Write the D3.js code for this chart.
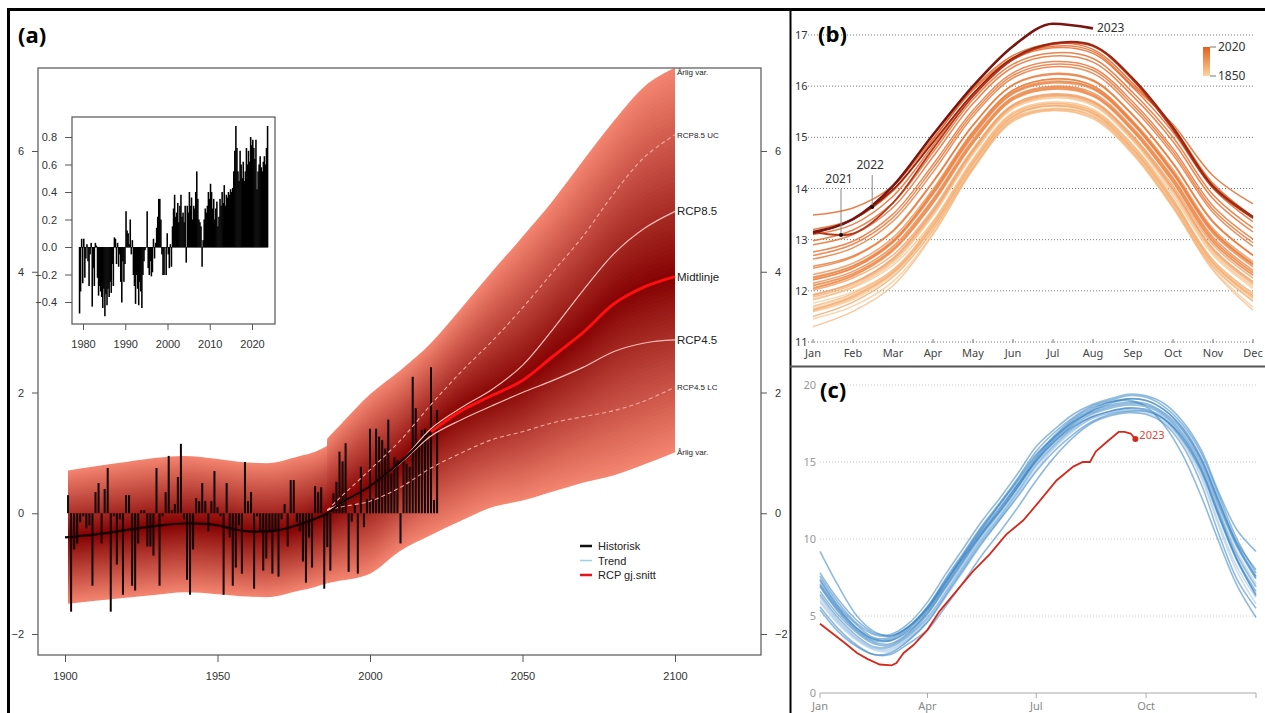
<!DOCTYPE html>
<html>
<head>
<meta charset="utf-8">
<script src="https://cdn.jsdelivr.net/npm/d3@7"></script>
<style>
  body { margin: 0; background: #fff; }
  svg { display: block; }
</style>
</head>
<body>
<svg id="fig" width="1265" height="713"></svg>
<script>
// ---------- panel (a): annual anomaly 1901-2022, projections to 2100 ----------
const histStart = 1901;
const histTemp = [
  0.30, -1.63, -0.60, -0.50, -0.15, -0.05, -0.25, -0.20, -1.20, 0.35,
  0.50, -0.50, 0.40, 0.75, -1.63, -0.05, -0.85, -0.10, -1.35, 0.30,
  0.30, -1.20, -1.28, -0.50, 0.05, 0.05, -0.55, -0.55, -0.70, 0.75,
  -1.20, -0.05, 0.35, 0.95, 0.05, 0.15, 0.60, 1.15, -0.10, -1.10,
  -1.35, -0.60, 0.25, 0.20, 0.50, 0.20, -0.30, 0.20, 0.70, 0.10,
  -0.05, -1.35, 0.50, -0.40, -1.20, -0.90, -0.20, -1.00, 0.85, 0.20,
  0.35, -1.25, -0.05, -0.30, -0.95, -0.75, -0.30, -1.00, -0.30, -1.05,
  -0.10, 0.15, -0.55, 0.55, 0.55, -0.15, -0.30, -0.80, -1.15, -0.40,
  -0.90, 0.45, 0.35, 0.43, -1.25, -0.56, -0.95, 0.33, 0.52, 1.02,
  0.86, 1.16, -0.97, -0.14, 0.16, -1.00, 0.77, -0.23, 0.24, 1.40,
  0.24, 1.40, 1.27, 1.21, 1.07, 1.55, 0.66, 0.93, 0.88, -0.50,
  0.93, 0.82, 0.77, 2.26, 1.74, 1.18, 1.38, 1.40, 1.21, 2.42,
  0.22, 1.71
];
const trendYears = [1900, 1910, 1920, 1930, 1939, 1950, 1955, 1960, 1970, 1980, 1986, 1990, 2000, 2010, 2020, 2022];
const trendVals  = [-0.40, -0.35, -0.28, -0.21, -0.17, -0.20, -0.26, -0.30, -0.28, -0.13, 0.00, 0.15, 0.45, 0.85, 1.35, 1.45];

const histBandYears = [1901, 1910, 1920, 1930, 1939, 1950, 1960, 1966, 1977, 1982, 1986];
const histUpper  = [0.71, 0.78, 0.85, 0.92, 0.95, 0.90, 0.84, 0.83, 0.95, 1.02, 1.12];
const histLower  = [-1.50, -1.45, -1.40, -1.35, -1.31, -1.34, -1.38, -1.39, -1.28, -1.22, -1.16];
const histCenter = [-0.40, -0.35, -0.28, -0.21, -0.17, -0.20, -0.30, -0.30, -0.22, -0.10, 0.00];

const futYears  = [1986, 1990, 2000, 2010, 2020, 2030, 2040, 2050, 2060, 2070, 2080, 2090, 2100];
const futUpper  = [1.24, 1.45, 1.97, 2.37, 2.82, 3.40, 4.00, 4.58, 5.18, 5.85, 6.50, 7.07, 7.38];
const futLower  = [-1.16, -1.12, -1.00, -0.62, -0.36, -0.12, 0.10, 0.21, 0.36, 0.51, 0.63, 0.81, 1.01];
const futCenter = [0.00, 0.15, 0.45, 0.85, 1.35, 1.70, 1.95, 2.20, 2.60, 3.00, 3.47, 3.75, 3.92];
const rcp85uc   = [0.05, 0.25, 0.72, 1.21, 1.80, 2.35, 2.85, 3.40, 4.00, 4.60, 5.30, 5.90, 6.27];
const rcp85     = [0.05, 0.15, 0.45, 0.85, 1.40, 1.75, 2.05, 2.45, 3.05, 3.70, 4.30, 4.72, 5.00];
const rcp45     = [0.05, 0.15, 0.45, 0.83, 1.28, 1.55, 1.78, 2.00, 2.20, 2.42, 2.68, 2.82, 2.87];
const rcp45lc   = [0.05, 0.10, 0.20, 0.43, 0.75, 1.00, 1.22, 1.35, 1.50, 1.60, 1.70, 1.86, 2.09];
const midYears  = [2020, 2030, 2040, 2050, 2060, 2070, 2080, 2090, 2100];
const midVals   = [1.35, 1.70, 1.95, 2.20, 2.60, 3.00, 3.47, 3.75, 3.92];

const yTicksA = [-2, 0, 2, 4, 6];
const xTicksA = [1900, 1950, 2000, 2050, 2100];

// inset: quarterly anomaly 1979 - 2023
const insetStart = 1979;
const insetTemp = [
  -0.48, -0.32, 0.06, -0.26,   0.06, -0.22, -0.08, 0.02,   -0.10, -0.28, -0.05, 0.03,
  -0.43, -0.15, -0.28, 0.03,   0.01, -0.22, -0.35, -0.28,  -0.32, -0.36, -0.44, -0.30,
  -0.50, -0.34, -0.42, -0.30,  -0.36, -0.25, -0.33, -0.12, -0.28, 0.07, 0.06, -0.12,
  0.03, -0.14, -0.05, -0.25,   -0.40, -0.10, -0.25, -0.12, 0.26, 0.12, 0.10, 0.02,
  0.20, -0.05, 0.05, -0.20,    -0.28, -0.41, -0.20, -0.30, -0.42, -0.25, -0.32, -0.44,
  -0.20, -0.10, -0.02, 0.00,   0.26, -0.15, -0.20, -0.10,  -0.21, -0.18, 0.06, -0.08,
  0.03, 0.14, 0.22, 0.35,      0.35, 0.20, -0.05, -0.20,   -0.20, 0.00, -0.20, 0.10,
  -0.05, -0.15, 0.02, -0.14,   0.15, 0.28, 0.38, 0.22,     0.25, 0.32, 0.18, 0.30,
  0.38, 0.22, 0.25, 0.18,      0.30, -0.11, 0.30, 0.25,    0.40, 0.30, 0.36, 0.20,
  0.30, 0.28, 0.40, 0.55,      0.35, 0.20, 0.18, 0.15,     -0.14, 0.05, 0.20, 0.28,
  0.25, 0.30, 0.40, 0.35,      0.46, 0.40, 0.28, 0.35,     0.20, 0.28, 0.33, 0.15,
  0.22, 0.35, 0.30, 0.40,      0.32, 0.45, 0.30, 0.38,     0.36, 0.40, 0.38, 0.42,
  0.40, 0.43, 0.55, 0.70,      0.88, 0.72, 0.55, 0.48,     0.70, 0.60, 0.50, 0.62,
  0.48, 0.55, 0.72, 0.60,      0.70, 0.62, 0.80, 0.74,     0.78, 0.72, 0.64, 0.78,
  0.42, 0.55, 0.60, 0.66,      0.58, 0.55, 0.62, 0.66,     0.60, 0.72, 0.88
];
const insetYTicks = [-0.4, -0.2, 0, 0.2, 0.4, 0.6, 0.8];
const insetXTicks = [1980, 1990, 2000, 2010, 2020];

// ---------- panel (b): monthly global mean temperature by year ----------
const bMonths = ["Jan", "Feb", "Mar", "Apr", "May", "Jun", "Jul", "Aug", "Sep", "Oct", "Nov", "Dec"];
const bTicks = [11, 12, 13, 14, 15, 16, 17];
const bYears = [1850, 1855, 1860, 1865, 1870, 1875, 1880, 1885, 1890, 1895, 1900, 1905, 1910, 1915,
  1920, 1925, 1930, 1935, 1940, 1945, 1950, 1955, 1960, 1965, 1970, 1975, 1980, 1985, 1990, 1995,
  2000, 2005, 2010, 2015, 2016, 2020];
const bCurves = [
  [11.67, 11.92, 12.38, 13.29, 14.51, 15.43, 15.63, 15.49, 14.79, 13.76, 12.57, 11.92],
  [11.59, 11.83, 12.31, 13.25, 14.49, 15.42, 15.62, 15.47, 14.76, 13.70, 12.50, 11.84],
  [11.76, 11.98, 12.40, 13.22, 14.44, 15.37, 15.57, 15.43, 14.75, 13.74, 12.60, 11.95],
  [11.45, 11.70, 12.18, 13.12, 14.37, 15.31, 15.52, 15.36, 14.66, 13.62, 12.42, 11.68],
  [11.84, 12.06, 12.50, 13.36, 14.55, 15.46, 15.66, 15.52, 14.85, 13.86, 12.70, 12.05],
  [11.60, 11.86, 12.36, 13.34, 14.58, 15.49, 15.69, 15.55, 14.84, 13.79, 12.55, 11.86],
  [11.82, 12.08, 12.55, 13.47, 14.67, 15.56, 15.77, 15.62, 14.93, 13.92, 12.74, 12.09],
  [11.30, 11.60, 12.10, 13.10, 14.38, 15.32, 15.53, 15.38, 14.68, 13.63, 12.40, 11.62],
  [11.64, 11.88, 12.34, 13.25, 14.48, 15.40, 15.61, 15.46, 14.76, 13.72, 12.53, 11.88],
  [11.70, 11.95, 12.41, 13.32, 14.54, 15.46, 15.66, 15.51, 14.82, 13.79, 12.60, 11.95],
  [11.88, 12.12, 12.59, 13.51, 14.71, 15.59, 15.80, 15.65, 14.96, 13.96, 12.78, 12.13],
  [11.62, 11.90, 12.36, 13.27, 14.49, 15.41, 15.62, 15.47, 14.77, 13.74, 12.55, 11.90],
  [11.50, 11.78, 12.27, 13.18, 14.41, 15.35, 15.55, 15.41, 14.71, 13.66, 12.47, 11.80],
  [11.91, 12.15, 12.62, 13.54, 14.73, 15.61, 15.82, 15.68, 14.99, 13.99, 12.81, 12.16],
  [11.93, 12.16, 12.64, 13.56, 14.75, 15.63, 15.83, 15.69, 15.00, 14.00, 12.83, 12.18],
  [12.01, 12.25, 12.70, 13.60, 14.78, 15.64, 15.85, 15.71, 15.03, 14.05, 12.90, 12.25],
  [12.06, 12.29, 12.78, 13.71, 14.88, 15.73, 15.94, 15.80, 15.11, 14.13, 12.96, 12.31],
  [12.11, 12.34, 12.83, 13.77, 14.93, 15.77, 15.98, 15.84, 15.15, 14.18, 13.01, 12.36],
  [12.27, 12.49, 12.99, 13.93, 15.07, 15.89, 16.10, 15.97, 15.28, 14.32, 13.17, 12.52],
  [12.32, 12.54, 13.04, 13.99, 15.12, 15.92, 16.14, 16.01, 15.32, 14.37, 13.22, 12.57],
  [12.10, 12.33, 12.81, 13.75, 14.91, 15.76, 15.97, 15.83, 15.14, 14.16, 13.00, 12.35],
  [12.04, 12.30, 12.79, 13.72, 14.89, 15.74, 15.95, 15.81, 15.12, 14.12, 12.95, 12.30],
  [12.21, 12.44, 12.94, 13.88, 15.02, 15.85, 16.06, 15.94, 15.25, 14.28, 13.12, 12.47],
  [12.15, 12.38, 12.87, 13.80, 14.96, 15.79, 16.00, 15.87, 15.18, 14.21, 13.05, 12.40],
  [12.25, 12.48, 12.97, 13.91, 15.05, 15.87, 16.08, 15.96, 15.27, 14.30, 13.15, 12.50],
  [12.22, 12.45, 12.96, 13.95, 15.10, 15.92, 16.14, 16.00, 15.30, 14.33, 13.18, 12.53],
  [12.44, 12.66, 13.16, 14.12, 15.23, 16.02, 16.23, 16.10, 15.42, 14.48, 13.34, 12.69],
  [12.48, 12.68, 13.18, 14.14, 15.24, 16.03, 16.25, 16.12, 15.44, 14.50, 13.36, 12.70],
  [12.62, 12.84, 13.36, 14.32, 15.41, 16.16, 16.38, 16.25, 15.57, 14.66, 13.53, 12.87],
  [12.69, 12.91, 13.43, 14.40, 15.47, 16.21, 16.43, 16.31, 15.63, 14.72, 13.59, 12.94],
  [12.76, 12.97, 13.50, 14.47, 15.53, 16.26, 16.48, 16.36, 15.69, 14.78, 13.66, 13.01],
  [12.90, 13.10, 13.63, 14.62, 15.66, 16.37, 16.59, 16.47, 15.80, 14.92, 13.80, 13.15],
  [12.98, 13.19, 13.72, 14.71, 15.74, 16.43, 16.65, 16.54, 15.87, 15.00, 13.88, 13.23],
  [13.10, 13.30, 13.85, 14.84, 15.85, 16.52, 16.75, 16.64, 15.97, 15.10, 14.00, 13.35],
  [13.48, 13.62, 14.05, 14.98, 15.92, 16.55, 16.78, 16.68, 16.00, 15.25, 14.25, 13.70],
  [13.20, 13.40, 13.95, 14.95, 15.95, 16.60, 16.83, 16.72, 16.05, 15.20, 14.10, 13.45]
];
const b2021 = [13.15, 13.12, 13.72, 14.78, 15.80, 16.52, 16.82, 16.78, 16.12, 15.15, 14.02, 13.42];
const b2022 = [13.12, 13.40, 13.98, 14.90, 15.85, 16.55, 16.84, 16.80, 16.15, 15.20, 14.05, 13.45];
const b2023 = [13.15, 13.40, 14.05, 15.05, 16.00, 16.78, 17.22, 17.13];
const bNotes = [{ label: "2021", month: 0.7, lift: 52 }, { label: "2022", month: 1.48, lift: 38 }];

// ---------- panel (c): daily series by year, 2023 highlighted ----------
const iceDays = [0, 15, 31, 45, 59, 74, 90, 105, 120, 135, 151, 166, 181, 196, 212, 227, 243, 258, 273, 288, 304, 319, 334, 349, 365];
const iceCurves = [
  [5.6, 4.2, 3.1, 2.5, 2.5, 3.2, 4.1, 5.6, 7.2, 8.9, 10.5, 12.1, 13.8, 15.3, 16.6, 17.5, 18.0, 18.2, 18.1, 17.5, 16.0, 13.6, 10.3, 7.4, 5.5],
  [7.3, 5.6, 4.2, 3.5, 3.4, 4.1, 5.4, 7.1, 8.9, 10.6, 12.3, 13.9, 15.5, 16.6, 17.6, 18.2, 18.6, 18.8, 18.7, 18.1, 16.8, 14.9, 12.1, 9.5, 7.4],
  [6.9, 5.3, 4.0, 3.3, 3.2, 3.9, 5.3, 7.0, 8.7, 10.4, 11.9, 13.5, 15.2, 16.5, 17.6, 18.3, 18.7, 18.9, 18.8, 18.2, 17.0, 15.1, 12.3, 9.6, 7.5],
  [6.2, 4.7, 3.5, 2.9, 2.9, 3.5, 4.6, 6.2, 7.9, 9.6, 11.3, 12.9, 14.5, 15.9, 17.0, 17.8, 18.2, 18.4, 18.3, 17.7, 16.3, 14.2, 11.0, 8.2, 6.2],
  [9.2, 7.0, 5.0, 4.0, 3.7, 4.3, 5.5, 7.2, 8.8, 10.3, 11.8, 13.4, 15.1, 16.4, 17.5, 18.3, 18.8, 19.1, 19.0, 18.4, 17.2, 15.3, 12.5, 9.8, 8.0],
  [7.6, 5.9, 4.5, 3.8, 3.7, 4.3, 5.6, 7.4, 9.1, 10.8, 12.4, 14.0, 15.7, 16.9, 17.9, 18.6, 19.0, 19.3, 19.2, 18.6, 17.4, 15.6, 12.8, 10.0, 7.8],
  [6.4, 4.9, 3.7, 3.0, 3.0, 3.7, 4.9, 6.5, 8.2, 9.9, 11.5, 13.1, 14.8, 16.1, 17.2, 17.9, 18.3, 18.5, 18.4, 17.8, 16.5, 14.5, 11.5, 8.7, 6.6],
  [5.9, 4.5, 3.4, 2.8, 2.7, 3.4, 4.7, 6.4, 8.1, 9.8, 11.4, 13.0, 14.7, 16.0, 17.1, 17.8, 18.2, 18.3, 18.2, 17.6, 16.2, 14.0, 10.8, 7.9, 5.8],
  [7.0, 5.4, 4.1, 3.4, 3.4, 4.0, 5.2, 6.9, 8.6, 10.3, 12.0, 13.6, 15.3, 16.6, 17.7, 18.4, 18.9, 19.0, 18.6, 17.4, 15.4, 12.8, 9.8, 7.0, 4.9],
  [7.8, 6.1, 4.7, 3.9, 3.8, 4.5, 5.9, 7.7, 9.4, 11.1, 12.7, 14.3, 16.0, 17.1, 18.1, 18.7, 19.1, 19.4, 19.3, 18.8, 17.6, 15.8, 13.0, 10.6, 9.2],
  [6.6, 5.1, 3.9, 3.2, 3.1, 3.8, 5.1, 6.8, 8.5, 10.2, 11.8, 13.4, 15.0, 16.3, 17.4, 18.1, 18.5, 18.7, 18.6, 18.0, 16.7, 14.7, 11.8, 9.0, 6.9],
  [6.0, 4.6, 3.5, 2.9, 2.8, 3.5, 4.8, 6.5, 8.3, 10.0, 11.6, 13.2, 14.9, 16.2, 17.3, 18.0, 18.5, 18.7, 18.6, 18.0, 16.7, 14.7, 11.7, 8.9, 6.9],
  [7.1, 5.5, 4.2, 3.5, 3.5, 4.2, 5.5, 7.2, 8.9, 10.5, 12.1, 13.6, 15.1, 16.3, 17.3, 17.9, 18.3, 18.5, 18.4, 17.8, 16.4, 14.4, 11.4, 8.6, 6.4],
  [5.4, 4.0, 3.0, 2.5, 2.6, 3.4, 4.6, 6.3, 8.0, 9.7, 11.3, 12.8, 14.4, 15.7, 16.8, 17.6, 18.1, 18.3, 18.3, 17.8, 16.6, 14.6, 11.6, 8.7, 6.3],
  [7.4, 5.7, 4.4, 3.6, 3.6, 4.3, 5.6, 7.3, 9.0, 10.7, 12.3, 13.8, 15.4, 16.7, 17.8, 18.5, 18.9, 19.1, 19.0, 18.4, 17.1, 15.2, 12.4, 9.7, 7.6],
  [6.3, 4.8, 3.6, 3.0, 3.0, 3.6, 4.8, 6.6, 8.4, 10.1, 11.7, 13.2, 14.8, 16.0, 17.1, 17.8, 18.2, 18.4, 18.4, 17.9, 16.7, 14.8, 11.9, 9.2, 7.1]
];
const ice2023Days = [0, 10, 20, 31, 40, 50, 60, 64, 70, 78, 90, 100, 114, 128, 142, 156, 170, 181, 198, 212, 220, 226, 231, 240, 250, 255, 260, 264];
const ice2023 = [4.5, 3.9, 3.3, 2.6, 2.2, 1.85, 1.8, 1.95, 2.6, 3.1, 4.1, 5.3, 6.6, 7.9, 9.0, 10.3, 11.2, 12.2, 13.8, 14.7, 15.0, 15.0, 15.7, 16.3, 16.95, 16.95, 16.85, 16.5];
const cTicks = [0, 5, 10, 15, 20];
const cMonthDays = [0, 90, 181, 273, 365];
const cMonthLabels = ["Jan", "Apr", "Jul", "Oct", ""];

// ------------------------------------------------------------------
const svg = d3.select("#fig");
const FR = '"Liberation Sans", Arial, sans-serif';
const FN = '"Noto Sans", "Open Sans", sans-serif';
svg.append("rect").attr("width", 1265).attr("height", 713).attr("fill", "#fff");

/* ===== panel (a) ===== */
const xA = d3.scaleLinear().domain([1900, 2100]).range([65, 675]);
const yA = d3.scaleLinear().domain([-2, 6]).range([634, 151]);
const gA = svg.append("g");

function band(years, lo, hi, mid) {
  const N = 44, col = d3.interpolateRgb("#f3846f", "#860404");
  const idx = d3.range(years.length);
  for (let i = 0; i < N; i++) {
    const f = 1 - i / N;
    const area = d3.area().curve(d3.curveMonotoneX)
      .x(j => xA(years[j]))
      .y0(j => yA(mid[j] + f * (lo[j] - mid[j])))
      .y1(j => yA(mid[j] + f * (hi[j] - mid[j])));
    gA.append("path").datum(idx).attr("d", area).attr("fill", col(i / (N - 1)));
  }
}
band(histBandYears, histLower, histUpper, histCenter);
band(futYears, futLower, futUpper, futCenter);

gA.append("g").selectAll("line").data(histTemp).join("line")
  .attr("x1", (d, i) => xA(histStart + i)).attr("x2", (d, i) => xA(histStart + i))
  .attr("y1", yA(0)).attr("y2", d => yA(d))
  .attr("stroke", "#120202").attr("stroke-width", 2);

const lineOf = years => d3.line().curve(d3.curveCatmullRom.alpha(0.5)).x((d, j) => xA(years[j])).y(d => yA(d));
[[rcp85uc, true], [rcp45lc, true], [rcp85, false], [rcp45, false]].forEach(([vals, dashed]) => {
  gA.append("path").datum(vals).attr("d", lineOf(futYears))
    .attr("fill", "none").attr("stroke", dashed ? "#f3aaa0" : "#f6bdb5")
    .attr("stroke-width", dashed ? 1.1 : 1.2)
    .attr("stroke-dasharray", dashed ? "4,3" : null);
});
gA.append("path").datum(trendVals).attr("d", lineOf(trendYears))
  .attr("fill", "none").attr("stroke", "#140000").attr("stroke-width", 2.2);
gA.append("path").datum(midVals).attr("d", lineOf(midYears))
  .attr("fill", "none").attr("stroke", "#ff1010").attr("stroke-width", 3);

// right-hand labels at 2100
const endLabels = [
  ["Årlig var.", futUpper, 8, 7], ["RCP8.5 UC", rcp85uc, 8, 3], ["RCP8.5", rcp85, 11.5, 4],
  ["Midtlinje", midVals, 11.5, 4], ["RCP4.5", rcp45, 11.5, 4], ["RCP4.5 LC", rcp45lc, 8, 3],
  ["Årlig var.", futLower, 8, 3]
];
gA.append("g").selectAll("text").data(endLabels).join("text")
  .attr("x", xA(2100) + 2).attr("y", d => yA(d[1][d[1].length - 1]) + d[3])
  .attr("font-family", FR).attr("font-size", d => d[2]).attr("fill", "#222")
  .text(d => d[0]);

// frame and axes
gA.append("rect").attr("x", 38).attr("y", 68).attr("width", 723).attr("height", 587)
  .attr("fill", "none").attr("stroke", "#555").attr("stroke-width", 1.2);
function styleAxis(g, size, color) {
  g.select(".domain").remove();
  g.selectAll("line").attr("stroke", "#555");
  g.selectAll("text").attr("font-family", FR).attr("font-size", size).attr("fill", color);
}
gA.append("g").attr("transform", "translate(38,0)")
  .call(d3.axisLeft(yA).tickValues(yTicksA).tickSize(6).tickPadding(8))
  .call(g => styleAxis(g, 11, "#333"));
gA.append("g").attr("transform", "translate(761,0)")
  .call(d3.axisRight(yA).tickValues(yTicksA).tickSize(6).tickPadding(8))
  .call(g => styleAxis(g, 11, "#333"));
gA.append("g").attr("transform", "translate(0,655)")
  .call(d3.axisBottom(xA).tickValues(xTicksA).tickFormat(d3.format("d")).tickSize(7).tickPadding(10))
  .call(g => styleAxis(g, 11, "#333"));

// legend
const legendA = [["Historisk", "#111", 2.5], ["Trend", "#9fd0e8", 1.5], ["RCP gj.snitt", "#e8141c", 2.5]];
const lg = gA.append("g").attr("transform", "translate(580,546)");
legendA.forEach((d, i) => {
  lg.append("line").attr("x1", 0).attr("x2", 12).attr("y1", i * 14.5).attr("y2", i * 14.5)
    .attr("stroke", d[1]).attr("stroke-width", d[2]);
  lg.append("text").attr("x", 18).attr("y", i * 14.5 + 4).attr("font-family", FR)
    .attr("font-size", 11).attr("fill", "#222").text(d[0]);
});

// inset
const xI = d3.scaleLinear().domain([1980, 2020]).range([83, 252]);
const yI = d3.scaleLinear().domain([-0.4, 0.8]).range([302, 137]);
const gI = svg.append("g");
gI.append("rect").attr("x", 72).attr("y", 117).attr("width", 203).attr("height", 207)
  .attr("fill", "#fff").attr("stroke", "#555").attr("stroke-width", 1.2);
const qW = xI(1980.25) - xI(1980);
gI.append("g").selectAll("rect").data(insetTemp).join("rect")
  .attr("x", (d, i) => xI(insetStart + i / 4))
  .attr("width", qW + 0.5)
  .attr("y", d => Math.min(yI(d), yI(0)))
  .attr("height", d => Math.abs(yI(d) - yI(0)) + 0.5)
  .attr("fill", "#000");
gI.append("g").attr("transform", "translate(72,0)")
  .call(d3.axisLeft(yI).tickValues(insetYTicks).tickFormat(d3.format(".1f")).tickSize(7).tickPadding(8))
  .call(g => styleAxis(g, 11, "#333"));
gI.append("g").attr("transform", "translate(0,324)")
  .call(d3.axisBottom(xI).tickValues(insetXTicks).tickFormat(d3.format("d")).tickSize(6).tickPadding(10))
  .call(g => styleAxis(g, 11, "#333"));

/* ===== panel (b) ===== */
const xB = d3.scaleLinear().domain([0, 11]).range([813, 1253]);
const yB = d3.scaleLinear().domain([11, 17]).range([342, 35]);
const gB = svg.append("g");
gB.append("g").selectAll("line").data(bTicks).join("line")
  .attr("x1", 808).attr("x2", 1253).attr("y1", d => yB(d)).attr("y2", d => yB(d))
  .attr("stroke", "#777").attr("stroke-width", 1).attr("stroke-dasharray", "1,2");
gB.append("g").selectAll("text").data(bTicks).join("text")
  .attr("x", 795).attr("y", d => yB(d) + 4)
  .attr("font-family", FN).attr("font-size", 11).attr("fill", "#333").text(d => d);
gB.append("g").selectAll("line").data(bMonths).join("line")
  .attr("x1", (d, i) => xB(i)).attr("x2", (d, i) => xB(i)).attr("y1", 339).attr("y2", 343)
  .attr("stroke", "#777");
gB.append("g").selectAll("text").data(bMonths).join("text")
  .attr("x", (d, i) => xB(i)).attr("y", 357).attr("text-anchor", "middle")
  .attr("font-family", FN).attr("font-size", 11).attr("fill", "#444").text(d => d);

const bColor = d3.scaleLinear().domain([1850, 2020]).range(["#fcd3a0", "#e25f1c"]);
const lineB = d3.line().curve(d3.curveCatmullRom.alpha(0.5)).x((d, i) => xB(i)).y(d => yB(d));
gB.append("g").selectAll("path").data(bCurves).join("path")
  .attr("d", lineB).attr("fill", "none")
  .attr("stroke", (d, i) => bColor(bYears[i])).attr("stroke-width", 1.5).attr("stroke-opacity", 0.8);
const p2021 = gB.append("path").datum(b2021).attr("d", lineB).attr("fill", "none")
  .attr("stroke", "#b5381c").attr("stroke-width", 1.8);
const p2022 = gB.append("path").datum(b2022).attr("d", lineB).attr("fill", "none")
  .attr("stroke", "#9a2514").attr("stroke-width", 1.8);
gB.append("path").datum(b2023).attr("d", d3.line().curve(d3.curveMonotoneX).x((d, i) => xB(i)).y(d => yB(d)))
  .attr("fill", "none").attr("stroke", "#781510").attr("stroke-width", 2.6);
gB.append("text").attr("x", xB(b2023.length - 1) + 4).attr("y", yB(b2023[b2023.length - 1]) + 4)
  .attr("font-family", FN).attr("font-size", 12).attr("fill", "#333").text("2023");

function yOnPath(node, x) {
  let lo = 0, hi = node.getTotalLength();
  for (let k = 0; k < 40; k++) {
    const m = (lo + hi) / 2;
    if (node.getPointAtLength(m).x < x) lo = m; else hi = m;
  }
  return node.getPointAtLength(lo).y;
}
[p2021, p2022].forEach((p, i) => {
  const n = bNotes[i], x = xB(n.month), y = yOnPath(p.node(), x);
  gB.append("line").attr("x1", x).attr("x2", x).attr("y1", y - n.lift + 6).attr("y2", y)
    .attr("stroke", "#888").attr("stroke-width", 1);
  gB.append("circle").attr("cx", x).attr("cy", y).attr("r", 2).attr("fill", "#111");
  gB.append("text").attr("x", x - 2).attr("y", y - n.lift).attr("text-anchor", "middle")
    .attr("font-family", FN).attr("font-size", 12).attr("fill", "#333").text(n.label);
});

// colour key
const grad = svg.append("defs").append("linearGradient").attr("id", "bKey")
  .attr("x1", 0).attr("y1", 0).attr("x2", 0).attr("y2", 1);
grad.append("stop").attr("offset", "0%").attr("stop-color", bColor(2020));
grad.append("stop").attr("offset", "100%").attr("stop-color", bColor(1850));
gB.append("rect").attr("x", 1203).attr("y", 47).attr("width", 7).attr("height", 29).attr("fill", "url(#bKey)");
[[2020, 47], [1850, 76]].forEach(([yr, y]) => {
  gB.append("line").attr("x1", 1210).attr("x2", 1216).attr("y1", y).attr("y2", y).attr("stroke", "#777");
  gB.append("text").attr("x", 1218).attr("y", y + 4).attr("font-family", FN).attr("font-size", 12)
    .attr("fill", "#333").text(yr);
});

/* ===== panel (c) ===== */
const xC = d3.scaleLinear().domain([0, 365]).range([820, 1256]);
const yC = d3.scaleLinear().domain([0, 20]).range([693, 385]);
const gC = svg.append("g");
gC.append("g").selectAll("line").data(cTicks.slice(1)).join("line")
  .attr("x1", 820).attr("x2", 1256).attr("y1", d => yC(d)).attr("y2", d => yC(d))
  .attr("stroke", "#c8c8c8").attr("stroke-dasharray", "1,2");
gC.append("g").selectAll("text").data(cTicks).join("text")
  .attr("x", 816).attr("y", d => yC(d) + 4).attr("text-anchor", "end")
  .attr("font-family", FN).attr("font-size", 11).attr("fill", "#999").text(d => d);
gC.append("line").attr("x1", 820).attr("x2", 1256).attr("y1", yC(0)).attr("y2", yC(0))
  .attr("stroke", "#aaa").attr("stroke-width", 1.2);
gC.append("g").selectAll("line").data(cMonthDays).join("line")
  .attr("x1", d => xC(d)).attr("x2", d => xC(d)).attr("y1", yC(0)).attr("y2", yC(0) + 5)
  .attr("stroke", "#aaa");
gC.append("g").selectAll("text").data(cMonthDays).join("text")
  .attr("x", d => xC(d)).attr("y", 710).attr("text-anchor", "middle")
  .attr("font-family", FN).attr("font-size", 11).attr("fill", "#888").text((d, i) => cMonthLabels[i]);

const lineC = d3.line().curve(d3.curveCatmullRom.alpha(0.5)).x((d, i) => xC(iceDays[i])).y(d => yC(d));
gC.append("g").selectAll("path").data(iceCurves).join("path")
  .attr("d", lineC).attr("fill", "none")
  .attr("stroke", (d, i) => i % 4 === 3 ? "#9dc3e4" : "#3482c2")
  .attr("stroke-width", 1.6).attr("stroke-opacity", 0.55);
gC.append("path").datum(ice2023)
  .attr("d", d3.line().x((d, i) => xC(ice2023Days[i])).y(d => yC(d)))
  .attr("fill", "none").attr("stroke", "#d42a1e").attr("stroke-width", 1.8);
const last = ice2023.length - 1;
gC.append("circle").attr("cx", xC(ice2023Days[last])).attr("cy", yC(ice2023[last])).attr("r", 3).attr("fill", "#d42a1e");
gC.append("text").attr("x", xC(ice2023Days[last]) + 4).attr("y", yC(ice2023[last]))
  .attr("font-family", FN).attr("font-size", 11).attr("fill", "#d9463b").text("2023");

/* ===== panel letters and borders ===== */
[["(a)", 18, 43], ["(b)", 818, 42], ["(c)", 820, 398]].forEach(([t, x, y]) => {
  svg.append("text").attr("x", x).attr("y", y).attr("font-family", '"Open Sans", sans-serif')
    .attr("font-weight", 700).attr("font-size", 22).attr("fill", "#000").text(t);
});
svg.append("line").attr("x1", 7).attr("x2", 1265).attr("y1", 9.5).attr("y2", 9.5).attr("stroke", "#000").attr("stroke-width", 3);
svg.append("line").attr("x1", 8.5).attr("x2", 8.5).attr("y1", 8).attr("y2", 713).attr("stroke", "#000").attr("stroke-width", 3);
svg.append("line").attr("x1", 790.5).attr("x2", 790.5).attr("y1", 8).attr("y2", 713).attr("stroke", "#000").attr("stroke-width", 2);
svg.append("line").attr("x1", 790).attr("x2", 1265).attr("y1", 366.5).attr("y2", 366.5).attr("stroke", "#555").attr("stroke-width", 2);
</script>
</body>
</html>
